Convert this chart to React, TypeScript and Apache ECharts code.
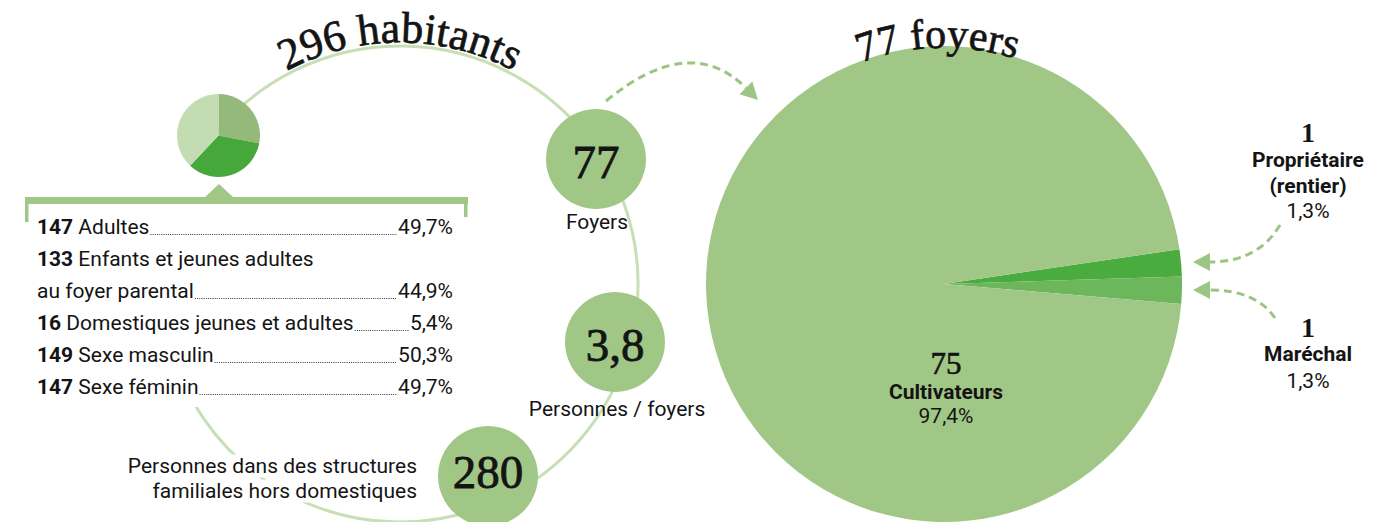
import React, { useEffect, useRef } from 'react';
import * as echarts from 'echarts';

const W = 1397;
const H = 522;

// ---------- data ----------
const populationTitle = '296 habitants';
const householdTitle = '77 foyers';
const compositionShares = [28, 34, 38]; // small pie
const listCounts = ['147', '133', '16', '149', '147'];
const listLabels = [
  ['Adultes'],
  ['Enfants et jeunes adultes', 'au foyer parental'],
  ['Domestiques jeunes et adultes'],
  ['Sexe masculin'],
  ['Sexe féminin'],
];
const listShares = ['49,7%', '44,9%', '5,4%', '50,3%', '49,7%'];
const keyFigures = ['77', '3,8', '280'];
const keyLabels = ['Foyers', 'Personnes / foyers', 'Personnes dans des structures\nfamiliales hors domestiques'];
const occupations = ['Propriétaire\n(rentier)', 'Maréchal', 'Cultivateurs'];
const occupationCounts = [1, 1, 75];
const occupationShares = ['1,3%', '1,3%', '97,4%'];

// ---------- style ----------
const GREEN = '#a1c786';
const ARC = '#c6dfb4';
const ARROW = '#9cc583';
const INK = '#141414';
const SANS = 'Roboto, "Liberation Sans", sans-serif';
const SERIF = '"Liberation Serif", "DejaVu Serif", serif';
const smallColors = ['#94b97b', '#46a83b', '#c3dcb1'];
const bigColors = ['#4aab3e', '#6cb65b', GREEN];

let ctx: CanvasRenderingContext2D | null = null;
function measure(text: string, size: number, family: string, weight = 'normal') {
  if (!ctx) ctx = document.createElement('canvas').getContext('2d');
  ctx!.font = `${weight} ${size}px ${family}`;
  return ctx!.measureText(text).width;
}

function txt(text: string, x: number, y: number, o: any = {}) {
  const align = o.align || 'center';
  const style: any = {
    text,
    fill: o.fill || INK,
    fontFamily: o.family || SANS,
    fontSize: o.size || 21,
    fontWeight: o.weight || 'normal',
    align,
    textAlign: align,
    verticalAlign: 'middle',
    textVerticalAlign: 'middle',
  };
  if (o.bg) {
    style.backgroundColor = o.bg;
    style.padding = o.padding;
  }
  if (o.heavy) {
    style.stroke = INK;
    style.lineWidth = o.heavy;
  }
  return { type: 'text', x, y, z: o.z ?? 30, rotation: o.rotation || 0, style };
}

function arcText(text: string, cx: number, cy: number, rBase: number, centerDeg: number, size: number) {
  const chars = Array.from(text);
  const ws = chars.map((c) => measure(c, size, SERIF));
  const total = ws.reduce((a, b) => a + b, 0);
  const r = rBase + 0.34 * size;
  let s = -total / 2;
  return chars.map((c, i) => {
    const mid = s + ws[i] / 2;
    s += ws[i];
    const a = (centerDeg * Math.PI) / 180 + mid / rBase;
    return txt(c, cx + r * Math.sin(a), cy - r * Math.cos(a), { family: SERIF, size, rotation: -a, z: 40, heavy: 0.7 });
  });
}

function arrow(p0: number[], cp: number[], p2: number[], tip: number[], dir: number[]) {
  const len = 17;
  const half = 9;
  const bx = tip[0] - dir[0] * len;
  const by = tip[1] - dir[1] * len;
  const px = -dir[1];
  const py = dir[0];
  return [
    {
      type: 'bezierCurve',
      z: 30,
      shape: { x1: p0[0], y1: p0[1], cpx1: cp[0], cpy1: cp[1], x2: p2[0], y2: p2[1] },
      style: { stroke: ARROW, lineWidth: 3, fill: 'none', lineDash: [8, 5] },
    },
    {
      type: 'polygon',
      z: 30,
      shape: { points: [tip, [bx + px * half, by + py * half], [bx - px * half, by - py * half]] },
      style: { fill: ARROW },
    },
  ];
}

function buildOption() {
  const g: any[] = [];

  // big ring behind the key figures
  const ringC = [400, 284];
  const ringR = 238;
  g.push({
    type: 'arc',
    z: 1,
    shape: { cx: ringC[0], cy: ringC[1], r: ringR, startAngle: (-140.7 * Math.PI) / 180, endAngle: (170 * Math.PI) / 180, clockwise: true },
    style: { stroke: ARC, lineWidth: 3, fill: 'none' },
  });

  // titles along arcs
  g.push(...arcText(populationTitle, ringC[0], ringC[1], 241, 0, 44));
  g.push(...arcText(householdTitle, 944, 284, 236, -1.5, 42));

  // list box
  g.push({ type: 'rect', z: 8, shape: { x: 25, y: 197, width: 443, height: 210 }, style: { fill: '#fff' } });
  g.push({ type: 'rect', z: 9, shape: { x: 25, y: 197, width: 443, height: 7 }, style: { fill: GREEN } });
  g.push({ type: 'rect', z: 9, shape: { x: 25, y: 197, width: 3.5, height: 25 }, style: { fill: GREEN } });
  g.push({ type: 'rect', z: 9, shape: { x: 464, y: 197, width: 3.5, height: 20 }, style: { fill: GREEN } });
  g.push({ type: 'polygon', z: 9, shape: { points: [[204, 198], [234, 198], [219, 184]] }, style: { fill: GREEN } });

  const left = 37;
  const right = 453;
  const size = 21;
  let line = 0;
  listCounts.forEach((cnt, i) => {
    const lines = listLabels[i];
    lines.forEach((lbl, j) => {
      const base = 235 + line * 32;
      const yMid = base - 0.36 * size;
      let x = left;
      if (j === 0) {
        g.push(txt(cnt, x, yMid, { align: 'left', weight: 'bold', size }));
        x += measure(cnt + ' ', size, SANS, 'bold');
      }
      g.push(txt(lbl, x, yMid, { align: 'left', size }));
      const endX = x + measure(lbl, size, SANS);
      if (j === lines.length - 1) {
        g.push(txt(listShares[i], right, yMid, { align: 'right', size }));
        const startP = right - measure(listShares[i], size, SANS);
        g.push({
          type: 'line',
          z: 25,
          shape: { x1: endX + 1, y1: base - 0.5, x2: startP - 1, y2: base - 0.5 },
          style: { stroke: '#333', lineWidth: 1, lineDash: [1, 1.2] },
        });
      }
      line += 1;
    });
  });

  // key-figure circles
  const circ = [[596, 159], [615, 342], [488, 476]];
  const numY = [162, 345, 472];
  circ.forEach((c, i) => {
    g.push({ type: 'circle', z: 15, shape: { cx: c[0], cy: c[1], r: 50 }, style: { fill: GREEN } });
    g.push(txt(keyFigures[i], c[0], numY[i], { family: SERIF, size: 47, heavy: 0.8 }));
  });
  g.push(txt(keyLabels[0], 597, 222, { size }));
  g.push(txt(keyLabels[1], 617, 409, { size }));
  const sl = keyLabels[2].split('\n');
  g.push(txt(sl[0], 419, 466, { size, align: 'right', bg: '#fff', padding: [1, 2, 1, 3], z: 20 }));
  g.push(txt(sl[1], 419, 491, { size, align: 'right', bg: '#fff', padding: [1, 2, 1, 3], z: 20 }));

  // big pie labels
  g.push(txt(String(occupationCounts[2]), 946, 363, { family: SERIF, size: 31, heavy: 0.6 }));
  g.push(txt(occupations[2], 946, 392, { size, weight: 'bold' }));
  g.push(txt(occupationShares[2], 946, 416, { size }));

  const p = occupations[0].split('\n');
  g.push(txt(String(occupationCounts[0]), 1308, 132, { family: SERIF, size: 28, weight: 'bold' }));
  g.push(txt(p[0], 1308, 160, { size, weight: 'bold' }));
  g.push(txt(p[1], 1308, 186, { size, weight: 'bold' }));
  g.push(txt(occupationShares[0], 1308, 211, { size }));

  g.push(txt(String(occupationCounts[1]), 1308, 327, { family: SERIF, size: 28, weight: 'bold' }));
  g.push(txt(occupations[1], 1308, 354, { size, weight: 'bold' }));
  g.push(txt(occupationShares[1], 1308, 381, { size }));

  // arrows
  g.push(...arrow([606, 101], [690, 32], [746, 88], [758, 100], [0.7071, 0.7071]));
  g.push(...arrow([1280, 225], [1258, 262], [1210, 262], [1193, 262], [-1, 0]));
  g.push(...arrow([1275, 318], [1256, 290], [1210, 290], [1193, 290], [-1, 0]));

  return {
    animation: false,
    backgroundColor: '#fff',
    graphic: { elements: g },
    series: [
      {
        type: 'pie',
        z: 12,
        silent: true,
        center: [218.5, 135.5],
        radius: 41.5,
        startAngle: 90,
        label: { show: false },
        labelLine: { show: false },
        emphasis: { disabled: true },
        data: compositionShares.map((v, i) => ({ value: v, itemStyle: { color: smallColors[i] } })),
      },
      {
        type: 'pie',
        z: 2,
        silent: true,
        center: [944, 284],
        radius: 238,
        startAngle: 8.4,
        minAngle: 6.6,
        label: { show: false },
        labelLine: { show: false },
        emphasis: { disabled: true },
        data: occupationCounts.map((v, i) => ({ name: occupations[i], value: v, itemStyle: { color: bigColors[i] } })),
      },
    ],
  };
}

export default function App() {
  const ref = useRef<HTMLDivElement>(null);
  useEffect(() => {
    const chart = echarts.init(ref.current!, null, { renderer: 'svg', width: W, height: H });
    chart.setOption(buildOption() as any);
    return () => chart.dispose();
  }, []);
  return <div ref={ref} style={{ position: 'fixed', left: 0, top: 0, width: W, height: H, background: '#fff' }} />;
}
